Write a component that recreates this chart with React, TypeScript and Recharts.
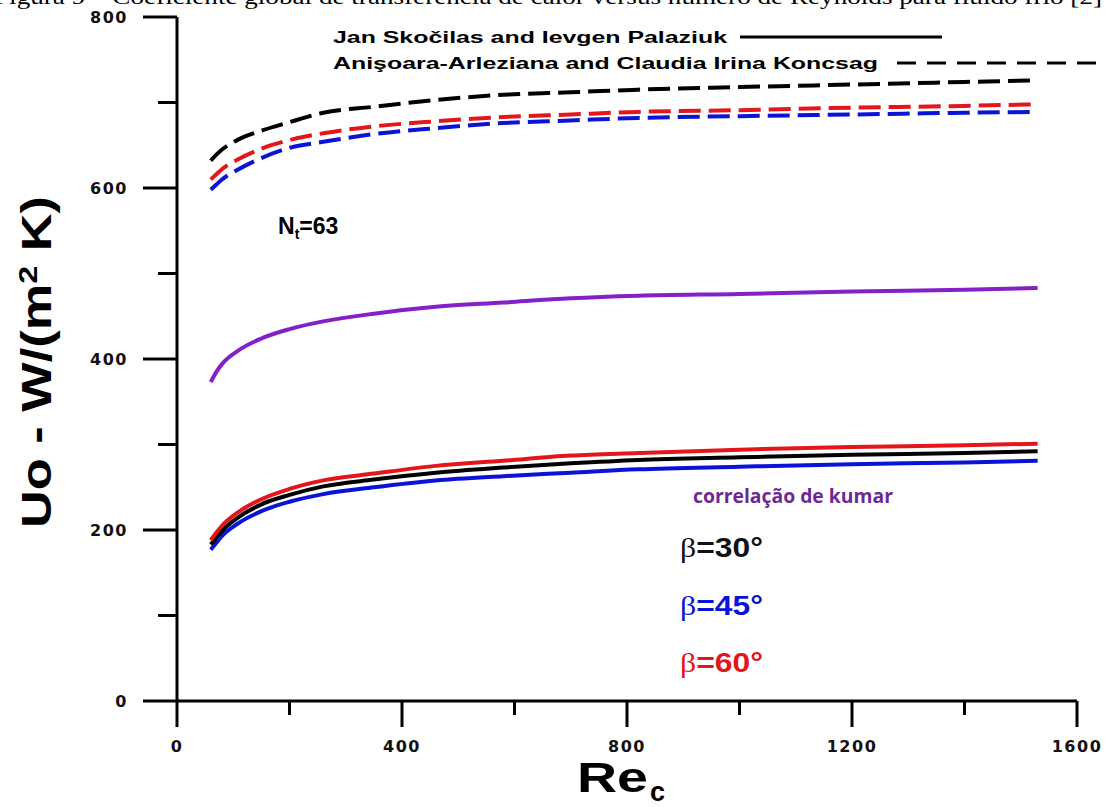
import { LineChart, Line, XAxis, YAxis } from "recharts";

// Re_c sample points
const reValues = [60, 70, 80, 107, 150, 200, 260, 350, 460, 580, 700, 820, 1000, 1200, 1400, 1530];

// Koncsag correlation (dashed)
const koncsag30 = [632, 639, 645, 656, 667, 677, 688, 695, 703, 709, 712, 715, 718, 721, 724, 726];
const koncsag60 = [610, 616, 622, 633, 646, 656, 664, 672, 678, 683, 686, 689, 691, 694, 696, 698];
const koncsag45 = [598, 604, 610, 621, 635, 647, 654, 663, 670, 676, 679, 682, 684, 686, 688, 689];

// Kumar correlation
const kumar = [373, 385, 394, 409, 424, 435, 444, 453, 461, 466, 471, 474, 476, 479, 481, 483];

// Skocilas correlation (solid)
const skocilas60 = [188, 197, 205, 220, 236, 248, 258, 266, 275, 281, 287, 290, 294, 297, 299, 301];
const skocilas30 = [183, 191, 199, 214, 230, 241, 251, 259, 267, 273, 278, 282, 285, 288, 290, 292];
const skocilas45 = [177, 185, 193, 207, 222, 233, 242, 250, 258, 263, 267, 271, 274, 277, 279, 281];

const xTicks = [0, 200, 400, 600, 800, 1000, 1200, 1400, 1600];
const yTicks = [0, 100, 200, 300, 400, 500, 600, 700, 800];

const data = reValues.map((re, i) => ({
  re,
  k30: koncsag30[i],
  k45: koncsag45[i],
  k60: koncsag60[i],
  kumar: kumar[i],
  s30: skocilas30[i],
  s45: skocilas45[i],
  s60: skocilas60[i],
}));

const BLACK = "#000000";
const BLUE = "#0a14d6";
const RED = "#e3161b";
const PURPLE = "#8420c8";

const tickFont = {
  fontFamily: "DejaVu Sans",
  fontWeight: 700,
  fontSize: 16,
  letterSpacing: 1.5,
  fill: "#111",
};

function XTick({ x, y, payload }: any) {
  const major = payload.value % 400 === 0;
  return (
    <g>
      <line x1={x} x2={x} y1={y} y2={y + (major ? 26 : 14)} stroke="#000" strokeWidth={3} />
      {major && (
        <text x={x} y={y + 51} textAnchor="middle" {...tickFont}>
          {payload.value}
        </text>
      )}
    </g>
  );
}

function YTick({ x, y, payload }: any) {
  const major = payload.value % 200 === 0;
  return (
    <g>
      <line x1={x - (major ? 34 : 19)} x2={x} y1={y} y2={y} stroke="#000" strokeWidth={3} />
      {major && (
        <text x={x - 49} y={y + 6} textAnchor="end" {...tickFont}>
          {payload.value}
        </text>
      )}
    </g>
  );
}

function BetaLabel({ y, color, angle }: { y: number; color: string; angle: string }) {
  return (
    <text x={680} y={y} fill={color} fontSize={27} textLength={83} lengthAdjust="spacingAndGlyphs">
      <tspan fontFamily="Liberation Serif, serif">β</tspan>
      <tspan fontFamily="Liberation Sans, Arial, sans-serif" fontWeight={700}>={angle}°</tspan>
    </text>
  );
}

export default function App() {
  const sans = "Liberation Sans, Arial, sans-serif";
  return (
    <div style={{ position: "absolute", left: 0, top: 0, width: 1107, height: 807, background: "#fff", overflow: "hidden" }}>
      <LineChart width={1107} height={807} data={data} margin={{ top: 17, right: 30, bottom: 0, left: 0 }}>
        <XAxis
          dataKey="re"
          type="number"
          domain={[0, 1600]}
          ticks={xTicks}
          interval={0}
          height={106}
          tickSize={0}
          tickMargin={0}
          tick={<XTick />}
          axisLine={{ stroke: "#000", strokeWidth: 3 }}
          tickLine={false}
        />
        <YAxis
          type="number"
          domain={[0, 800]}
          ticks={yTicks}
          interval={0}
          width={177}
          tickSize={0}
          tickMargin={0}
          tick={<YTick />}
          axisLine={{ stroke: "#000", strokeWidth: 3 }}
          tickLine={false}
        />
        <Line type="monotone" dataKey="k30" stroke={BLACK} strokeWidth={4} strokeDasharray="22 8" dot={false} isAnimationActive={false} />
        <Line type="monotone" dataKey="k60" stroke={RED} strokeWidth={4} strokeDasharray="22 8" dot={false} isAnimationActive={false} />
        <Line type="monotone" dataKey="k45" stroke={BLUE} strokeWidth={4} strokeDasharray="22 8" dot={false} isAnimationActive={false} />
        <Line type="monotone" dataKey="kumar" stroke={PURPLE} strokeWidth={4} dot={false} isAnimationActive={false} />
        <Line type="monotone" dataKey="s45" stroke={BLUE} strokeWidth={4} dot={false} isAnimationActive={false} />
        <Line type="monotone" dataKey="s30" stroke={BLACK} strokeWidth={4} dot={false} isAnimationActive={false} />
        <Line type="monotone" dataKey="s60" stroke={RED} strokeWidth={4} dot={false} isAnimationActive={false} />
      </LineChart>

      {/* text overlay: caption, legend, annotations, axis titles */}
      <svg width={1107} height={807} style={{ position: "absolute", left: 0, top: 0, pointerEvents: "none" }}>
        <text x={-6} y={4} fontFamily="Liberation Serif, serif" fontSize={22} textLength={1108} lengthAdjust="spacingAndGlyphs">
          Figura 9 – Coeficiente global de transferência de calor versus número de Reynolds para fluido frio [2]
        </text>

        <text x={333} y={43} fontFamily={sans} fontWeight={700} fontSize={16} textLength={394} lengthAdjust="spacingAndGlyphs">
          Jan Skočilas and Ievgen Palaziuk
        </text>
        <line x1={740} x2={942} y1={37} y2={37} stroke="#000" strokeWidth={3} />
        <text x={333} y={69} fontFamily={sans} fontWeight={700} fontSize={16} textLength={545} lengthAdjust="spacingAndGlyphs">
          Anişoara-Arleziana and Claudia Irina Koncsag
        </text>
        <line x1={897} x2={1107} y1={63} y2={63} stroke="#000" strokeWidth={3} strokeDasharray="19 11" />

        <text x={278} y={234} fontFamily={sans} fontWeight={700} fontSize={23}>
          N<tspan fontSize={14} dy={5}>t</tspan><tspan dy={-5}>=63</tspan>
        </text>

        <text x={693} y={503} fill="#6e2894" fontFamily="Open Sans, sans-serif" fontWeight={700} fontSize={19} textLength={200} lengthAdjust="spacingAndGlyphs">
          correlação de kumar
        </text>
        <BetaLabel y={557} color="#111" angle="30" />
        <BetaLabel y={615} color={BLUE} angle="45" />
        <BetaLabel y={672} color={RED} angle="60" />

        <text
          x={0}
          y={0}
          transform="translate(51 362) rotate(-90)"
          textAnchor="middle"
          fontFamily={sans}
          fontWeight={700}
          fontSize={42}
          textLength={332}
          lengthAdjust="spacingAndGlyphs"
        >
          Uo - W/(m<tspan fontSize={26} dy={-14}>2</tspan><tspan dy={14}> K)</tspan>
        </text>

        <text x={577} y={792} fontFamily={sans} fontWeight={700} fontSize={42} textLength={71} lengthAdjust="spacingAndGlyphs">
          Re
        </text>
        <text x={650} y={801} fontFamily={sans} fontWeight={700} fontSize={27}>
          c
        </text>
      </svg>
    </div>
  );
}
